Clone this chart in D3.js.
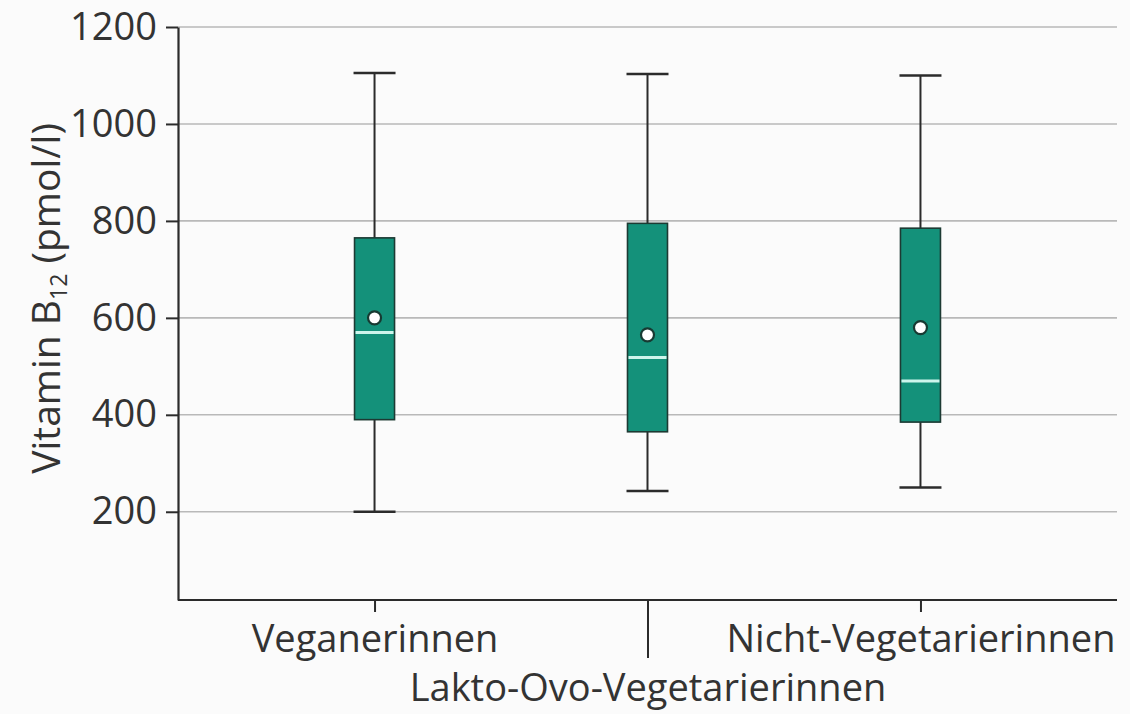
<!DOCTYPE html>
<html>
<head>
<meta charset="utf-8">
<script src="https://cdn.jsdelivr.net/npm/d3@7"></script>
<style>
  html, body { margin: 0; padding: 0; background: #fbfbfb; }
  svg { display: block; }
  text { font-family: "Open Sans", "Noto Sans", sans-serif; fill: #333; }
</style>
</head>
<body>
<svg id="chart" width="1130" height="714"></svg>
<script>
// Vitamin B12 serum levels by diet group (box plot with mean marker)
const categories = ["Veganerinnen", "Lakto-Ovo-Vegetarierinnen", "Nicht-Vegetarierinnen"];
const whiskerLow  = [200, 243, 250];
const quartile1   = [390, 365, 385];
const medians     = [570, 518, 470];
const quartile3   = [765, 795, 785];
const whiskerHigh = [1105, 1103, 1100];
const means       = [600, 565, 580];
const yTicks      = [200, 400, 600, 800, 1000, 1200];
const yDomain     = [18, 1200];

const boxes = categories.map((c, i) => ({
  cat: c, lo: whiskerLow[i], q1: quartile1[i], med: medians[i],
  q3: quartile3[i], hi: whiskerHigh[i], mean: means[i]
}));

const svg = d3.select("#chart");
const margin = { top: 27, right: 13, bottom: 114, left: 178 };
const W = 1130, H = 714;

const x = d3.scalePoint().domain(categories)
  .range([margin.left, W - margin.right]).padding(0.72);
const y = d3.scaleLinear().domain(yDomain).range([H - margin.bottom, margin.top]);

const ink = "#2b2b2b";

// horizontal grid
svg.append("g").selectAll("line").data(yTicks).join("line")
  .attr("x1", margin.left).attr("x2", W - margin.right)
  .attr("y1", d => y(d)).attr("y2", d => y(d))
  .attr("stroke", "#b9b9b9").attr("stroke-width", 1.6);

// y axis
const yAxis = svg.append("g").attr("transform", `translate(${margin.left},0)`)
  .call(d3.axisLeft(y).tickValues(yTicks).tickFormat(d3.format("d"))
    .tickSize(12).tickPadding(9).tickSizeOuter(0));
yAxis.select(".domain").attr("stroke", ink).attr("stroke-width", 2.2);
yAxis.selectAll(".tick line").attr("stroke", ink).attr("stroke-width", 2);
yAxis.selectAll(".tick text").attr("font-size", 38).attr("fill", "#333")
  .attr("font-family", "'Open Sans', sans-serif");

// x axis
const xAxis = svg.append("g").attr("transform", `translate(0,${y(yDomain[0])})`)
  .call(d3.axisBottom(x).tickSize(12).tickSizeOuter(0).tickFormat(""));
xAxis.select(".domain").attr("stroke", ink).attr("stroke-width", 2.2)
  .attr("d", `M${margin.left},0H${W - margin.right}`);
xAxis.selectAll(".tick line").attr("stroke", ink).attr("stroke-width", 2)
  .attr("y2", (d, i) => i === 1 ? 58 : 12);
xAxis.selectAll(".tick").append("text")
  .attr("text-anchor", "middle")
  .attr("y", (d, i) => i === 1 ? 101 : 52)
  .attr("font-size", 38)
  .attr("fill", "#333")
  .text(d => d);

// y axis title
const yTitle = svg.append("text")
  .attr("transform", `translate(60,${y(640)}) rotate(-90)`)
  .attr("text-anchor", "middle")
  .attr("font-size", 39);
yTitle.append("tspan").text("Vitamin B");
yTitle.append("tspan").attr("font-size", 23).attr("dy", 7).text("12");
yTitle.append("tspan").attr("dy", -7).text(" (pmol/l)");

const boxW = 40, capW = 42;
const g = svg.append("g").selectAll("g").data(boxes).join("g")
  .attr("transform", d => `translate(${x(d.cat)},0)`);

// whiskers
g.append("line").attr("x1", 0).attr("x2", 0)
  .attr("y1", d => y(d.hi)).attr("y2", d => y(d.q3))
  .attr("stroke", ink).attr("stroke-width", 2);
g.append("line").attr("x1", 0).attr("x2", 0)
  .attr("y1", d => y(d.q1)).attr("y2", d => y(d.lo))
  .attr("stroke", ink).attr("stroke-width", 2);
g.append("line").attr("x1", -capW / 2).attr("x2", capW / 2)
  .attr("y1", d => y(d.hi)).attr("y2", d => y(d.hi))
  .attr("stroke", ink).attr("stroke-width", 2.6);
g.append("line").attr("x1", -capW / 2).attr("x2", capW / 2)
  .attr("y1", d => y(d.lo)).attr("y2", d => y(d.lo))
  .attr("stroke", ink).attr("stroke-width", 2.6);

// boxes
g.append("rect").attr("x", -boxW / 2).attr("width", boxW)
  .attr("y", d => y(d.q3)).attr("height", d => y(d.q1) - y(d.q3))
  .attr("fill", "#14917a").attr("stroke", "#1d3a33").attr("stroke-width", 1.6);

// median
g.append("line").attr("x1", -boxW / 2 + 1).attr("x2", boxW / 2 - 1)
  .attr("y1", d => y(d.med)).attr("y2", d => y(d.med))
  .attr("stroke", "#cdf5ec").attr("stroke-width", 3);

// mean
g.append("circle").attr("cx", 0).attr("cy", d => y(d.mean)).attr("r", 6.5)
  .attr("fill", "#ffffff").attr("stroke", "#173a32").attr("stroke-width", 2.2);
</script>
</body>
</html>
